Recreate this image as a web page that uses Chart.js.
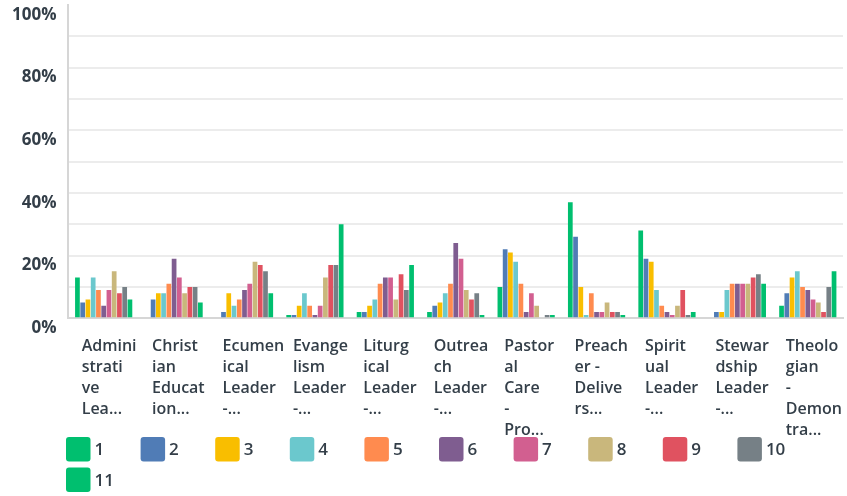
<!DOCTYPE html>
<html>
<head>
<meta charset="utf-8">
<script src="https://cdn.jsdelivr.net/npm/chart.js@4/dist/chart.umd.min.js"></script>
<style>
html,body{margin:0;padding:0;background:#fff;}
#wrap{width:847px;height:496px;position:relative;}
</style>
</head>
<body>
<div id="wrap"><canvas id="c" width="847" height="496"></canvas></div>
<script>
const categories = [
  ["Admini","strati","ve","Lea..."],
  ["Christ","ian","Educat","ion..."],
  ["Ecumen","ical","Leader","-..."],
  ["Evange","lism","Leader","-..."],
  ["Liturg","ical","Leader","-..."],
  ["Outrea","ch","Leader","-..."],
  ["Pastor","al","Care","-","Pro..."],
  ["Preach","er -","Delive","rs..."],
  ["Spirit","ual","Leader","-..."],
  ["Stewar","dship","Leader","-..."],
  ["Theolo","gian","-","Demon","tra..."]
];
const seriesNames = ["1","2","3","4","5","6","7","8","9","10","11"];
const s1  = [13, 0, 0, 1, 2, 2,10,37,28, 0, 4];
const s2  = [ 5, 6, 2, 1, 2, 4,22,26,19, 2, 8];
const s3  = [ 6, 8, 8, 4, 4, 5,21,10,18, 2,13];
const s4  = [13, 8, 4, 8, 6, 8,18, 1, 9, 9,15];
const s5  = [ 9,11, 6, 4,11,11,11, 8, 4,11,10];
const s6  = [ 4,19, 9, 1,13,24, 2, 2, 2,11, 9];
const s7  = [ 9,13,11, 4,13,19, 8, 2, 1,11, 6];
const s8  = [15, 8,18,13, 6, 9, 4, 5, 4,11, 5];
const s9  = [ 8,10,17,17,14, 6, 0, 2, 9,13, 2];
const s10 = [10,10,15,17, 9, 8, 1, 2, 1,14,10];
const s11 = [ 6, 5, 8,30,17, 1, 1, 1, 2,11,15];
const yTicks = [0,20,40,60,80,100];

const seriesValues = [s1,s2,s3,s4,s5,s6,s7,s8,s9,s10,s11];
const colors = ["#00bf6f","#507cb6","#f9be00","#6bc8cd","#ff8b4f","#7f5d90","#d25f90","#c9b77c","#e05260","#768086","#00bf6f"];
const textColor = "#333e48";
const FONT = "'Open Sans', sans-serif";

const legendPlugin = {
  id: 'gridLegend',
  afterDraw(chart) {
    const ctx = chart.ctx;
    const ds = chart.data.datasets;
    const x0 = 66, y0 = 437, stepX = 74.6, stepY = 30.5, box = 24.5, perRow = 10;
    ctx.save();
    ctx.font = "600 17px " + FONT;
    ctx.textBaseline = 'middle';
    ctx.textAlign = 'left';
    ds.forEach((d, i) => {
      const r = Math.floor(i / perRow), c = i % perRow;
      const x = x0 + c * stepX, y = y0 + r * stepY;
      ctx.fillStyle = d.backgroundColor;
      ctx.beginPath();
      ctx.roundRect(x, y, box, box, 3);
      ctx.fill();
      ctx.fillStyle = textColor;
      ctx.fillText(d.label, x + box + 4, y + box / 2 + 1);
    });
    ctx.restore();
  }
};

new Chart(document.getElementById('c'), {
  type: 'bar',
  data: {
    labels: categories,
    datasets: seriesNames.map((n, i) => ({
      label: n,
      data: seriesValues[i],
      backgroundColor: colors[i],
      borderWidth: 0,
      categoryPercentage: 0.82,
      barPercentage: 0.9
    }))
  },
  options: {
    responsive: false,
    animation: false,
    layout: { padding: { left: 0, right: 4, top: 5, bottom: 37 } },
    plugins: { legend: { display: false }, tooltip: { enabled: false } },
    scales: {
      x: {
        grid: { display: false, drawTicks: false },
        border: { display: true, color: '#d6d6d6', width: 2 },
        afterFit: s => { s.paddingLeft = 0; s.paddingRight = 0; },
        ticks: {
          autoSkip: false, maxRotation: 0, minRotation: 0,
          align: 'start', labelOffset: -22, padding: 18,
          color: textColor,
          font: { family: FONT, size: 16, weight: '600', lineHeight: 1.31 }
        }
      },
      y: {
        min: 0, max: 100,
        afterFit: s => { s.paddingTop = 0; },
        grid: {
          drawTicks: false,
          color: c => (c.tick && c.tick.value === 100) ? 'rgba(0,0,0,0)' : '#ececec',
          lineWidth: 2
        },
        border: { display: true, color: '#d6d6d6', width: 2 },
        ticks: {
          stepSize: 10,
          padding: 12,
          align: 'start',
          labelOffset: 1.5,
          color: textColor,
          font: { family: FONT, size: 17, weight: '700' },
          callback: v => yTicks.includes(v) ? v + '%' : ''
        }
      }
    }
  },
  plugins: [legendPlugin]
});
</script>
</body>
</html>
